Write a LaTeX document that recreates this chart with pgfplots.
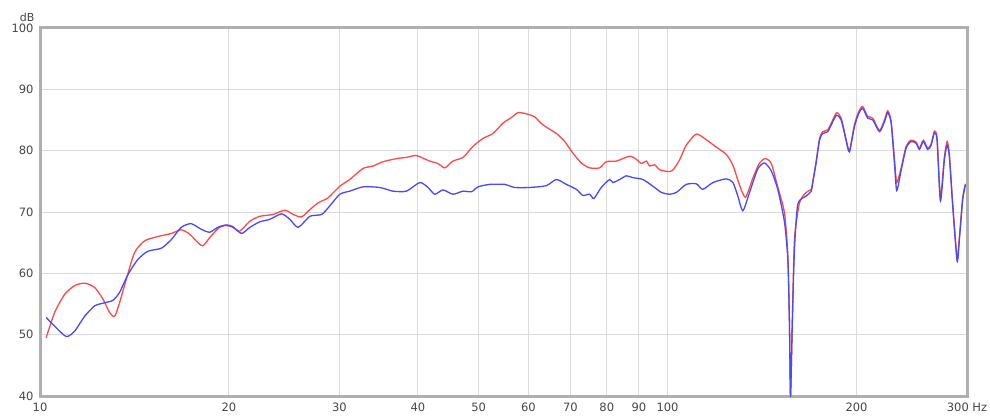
\documentclass[border=0pt]{standalone}
\usepackage{pgfplots}
\pgfplotsset{compat=1.18}
\usepackage{fontspec}
\setmainfont{DejaVu Sans}
\definecolor{cred}{RGB}{255,72,72}
\definecolor{cblue}{RGB}{72,72,255}
\definecolor{lbl}{RGB}{70,70,70}
\definecolor{frm}{RGB}{175,175,175}
\begin{document}
\begin{tikzpicture}
\useasboundingbox (-40pt,-19pt) rectangle (950pt,396pt);
\begin{axis}[
  scale only axis, width=927pt, height=368pt,
  xmode=log, log basis x=10,
  xmin=10, xmax=300, ymin=40, ymax=100,
  xtick={10,20,30,40,50,60,70,80,90,100,200,300},
  xticklabels={10,20,30,40,50,60,70,80,90,100,200,300 Hz},
  ytick={40,50,60,70,80,90,100},
  minor xtick={},
  grid=major,
  major grid style={draw=gray!28, line width=0.9pt},
  axis line style={draw=frm, line width=3pt},
  axis background/.style={draw=frm, line width=3pt},
  tick style={draw=none},
  major tick length=0pt,
  /pgf/number format/assume math mode=true,
  ticklabel style={font=\fontsize{11.5}{12}\selectfont, text=lbl},
  xticklabel style={yshift=-3pt},
  yticklabel style={xshift=-3pt},
  clip mode=individual,
]
\addplot[cred, line width=1.3pt, smooth, tension=0.4] coordinates {
(10.23,49.5)(10.55,53.6)(10.95,56.6)(11.36,58.0)(11.78,58.4)(12.22,57.7)(12.60,55.8)(12.91,53.6)(13.15,53.0)(13.39,55.2)(13.72,59.0)(14.15,63.4)(14.68,65.3)(15.41,66.0)(16.19,66.5)(16.79,67.1)(17.31,66.4)(17.85,65.0)(18.18,64.5)(18.74,66.1)(19.32,67.5)(19.81,67.8)(20.29,67.5)(20.82,66.9)(21.60,68.5)(22.40,69.3)(23.52,69.6)(24.55,70.3)(25.31,69.6)(26.11,69.2)(26.92,70.4)(27.75,71.5)(28.77,72.3)(30.04,74.2)(31.15,75.3)(32.72,77.1)(33.95,77.5)(35.22,78.2)(36.98,78.7)(38.36,78.9)(39.80,79.2)(41.78,78.3)(43.07,77.9)(44.14,77.2)(45.50,78.3)(47.21,78.9)(48.98,80.7)(50.81,82.0)(52.71,82.8)(54.68,84.5)(56.38,85.4)(57.76,86.2)(59.57,86.0)(61.41,85.5)(63.30,84.2)(66.50,82.8)(68.55,81.5)(70.66,79.6)(72.87,78.0)(75.12,77.2)(77.95,77.2)(79.88,78.2)(82.86,78.3)(86.99,79.1)(89.16,78.6)(90.81,77.9)(92.50,78.3)(93.62,77.5)(95.35,77.7)(97.12,76.9)(100.1,76.6)(101.9,76.8)(104.5,78.5)(107.1,80.9)(111.1,82.7)(115.2,81.8)(119.5,80.6)(124.0,79.4)(127.1,77.6)(130.2,74.4)(133.1,72.4)(136.7,75.5)(140.1,78.0)(143.2,78.7)(146.3,77.9)(149.8,74.1)(153.6,69.8)(155.5,62.7)(156.4,51.8)(157.0,40.0)(158.0,51.8)(159.3,65.5)(162.3,71.5)(166.3,73.2)(169.4,73.7)(170.3,74.9)(172.4,78.1)(174.6,81.9)(176.7,83.1)(180.0,83.4)(183.3,85.0)(186.0,86.2)(189.1,85.3)(192.5,81.9)(194.9,80.0)(198.5,84.2)(201.7,86.4)(204.6,87.2)(208.4,85.6)(212.3,85.3)(217.6,83.3)(221.6,85.0)(224.3,86.5)(227.1,84.8)(229.9,78.6)(231.8,74.8)(235.6,77.2)(239.9,80.7)(244.3,81.7)(248.9,81.4)(251.9,80.4)(255.6,81.7)(259.7,80.4)(263.0,81.1)(266.2,83.2)(268.8,82.0)(272.1,72.5)(276.1,79.0)(278.9,81.5)(281.2,79.4)(284.7,71.3)(289.3,62.5)(291.7,65.8)(295.3,72.3)(298.2,74.6)
};
\addplot[cblue, line width=1.3pt, smooth, tension=0.4] coordinates {
(10.23,52.8)(10.55,51.4)(11.01,49.7)(11.36,50.6)(11.78,53.0)(12.22,54.7)(12.68,55.2)(13.07,55.6)(13.39,56.9)(13.81,59.8)(14.33,62.3)(14.86,63.6)(15.61,64.1)(16.19,65.5)(16.79,67.5)(17.41,68.1)(18.06,67.2)(18.63,66.7)(19.20,67.5)(19.81,67.9)(20.29,67.6)(20.95,66.5)(21.60,67.5)(22.40,68.4)(23.23,68.8)(24.26,69.7)(25.01,68.8)(25.79,67.5)(26.92,69.3)(28.10,69.6)(28.96,71.0)(30.04,72.9)(31.15,73.4)(32.72,74.1)(34.78,74.0)(36.52,73.4)(38.36,73.4)(40.28,74.8)(41.52,74.0)(42.56,72.9)(43.87,73.6)(45.50,72.9)(47.21,73.4)(48.69,73.3)(49.88,74.1)(52.07,74.5)(55.02,74.5)(57.06,74.0)(60.30,74.0)(64.10,74.3)(66.50,75.3)(68.98,74.5)(71.55,73.7)(73.30,72.7)(75.12,72.9)(76.31,72.2)(78.41,74.0)(80.84,75.3)(81.83,74.8)(83.87,75.3)(85.95,75.9)(88.05,75.6)(91.36,75.3)(94.76,74.2)(97.72,73.2)(100.7,72.9)(103.3,73.2)(107.1,74.5)(111.1,74.6)(113.8,73.7)(118.1,74.8)(124.0,75.4)(127.1,74.8)(129.4,72.6)(131.8,70.2)(135.1,73.2)(139.2,77.0)(142.7,78.0)(146.3,76.7)(149.8,73.7)(153.6,68.3)(155.5,62.0)(156.4,51.5)(157.0,40.0)(158.0,51.5)(159.3,64.0)(161.3,71.3)(166.3,72.6)(169.4,73.4)(170.3,74.7)(172.4,77.9)(174.6,81.7)(176.7,82.8)(180.0,83.1)(183.3,84.7)(186.0,85.8)(189.1,85.0)(192.5,81.7)(194.9,79.8)(198.5,83.9)(201.7,86.1)(204.6,86.9)(208.4,85.3)(212.3,85.0)(217.6,83.1)(221.6,84.7)(224.3,86.2)(227.1,84.5)(229.9,77.9)(231.8,73.5)(235.6,76.8)(239.9,80.4)(244.3,81.5)(248.9,81.2)(251.9,80.2)(255.6,81.5)(259.7,80.2)(263.0,80.9)(266.2,82.9)(268.8,81.7)(272.1,71.8)(276.1,78.5)(278.9,80.9)(281.2,79.0)(284.7,70.9)(289.3,62.0)(291.7,65.5)(295.3,72.0)(298.2,74.4)
};
\node[anchor=base east, font=\fontsize{11}{12}\selectfont, text=lbl] at (rel axis cs:0,1) [xshift=-2pt, yshift=6pt] {dB};
\end{axis}
\end{tikzpicture}
\end{document}
